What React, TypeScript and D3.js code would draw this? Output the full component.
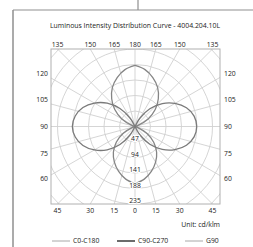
import React from 'react';
import * as d3 from 'd3';

// gamma angles (0 = nadir, 180 = zenith)
const gamma = [0, 10, 20, 30, 40, 50, 60, 70, 80, 90, 100, 110, 120, 130, 140, 150, 160, 170, 180];

// cd/klm per gamma
const c0 = [173, 162, 145, 125, 102, 74, 42, 8, 0, 0, 0, 10, 46, 80, 110, 137, 158, 175, 185];
const c180 = [173, 162, 145, 125, 102, 74, 42, 8, 0, 0, 0, 10, 46, 80, 110, 137, 158, 175, 185];
const c90 = [0, 0, 0, 28, 70, 108, 140, 166, 182, 187, 182, 166, 140, 108, 70, 28, 0, 0, 0];
const c270 = [0, 0, 0, 28, 71, 110, 142, 168, 184, 190, 184, 168, 142, 110, 71, 28, 0, 0, 0];

const ringValues = [47, 94, 141, 188, 235];
const angleTicks = [0, 15, 30, 45, 60, 75, 90, 105, 120, 135, 150, 165, 180];

const legendNames = ['C0-C180', 'C90-C270', 'G90'];
const legendColors = ['#a8a8a8', '#3a3a3a', '#a8a8a8'];

const title = 'Luminous Intensity Distribution Curve - 4004.204.10L';
const unitText = 'Unit: cd/klm';

const W = 253;
const H = 247;
const cx = 135;
const cy = 126.5;
const box = { x0: 51, x1: 220, y0: 49, y1: 204 };
const FONT = '"Open Sans", "Noto Sans", sans-serif';

export default function App() {
  const r = d3.scaleLinear().domain([0, 235]).range([0, 77.5]);

  // trim long runs of zero so the curve only touches the centre once per gap
  const half = (vals: number[]) => {
    const pts = gamma.map((g, i) => ({ g, v: vals[i] }));
    return pts.filter((p, i) => p.v > 0 || (pts[i - 1] && pts[i - 1].v > 0) || (pts[i + 1] && pts[i + 1].v > 0));
  };

  const radial = (side: number) =>
    d3.lineRadial<{ g: number; v: number }>()
      .angle(d => Math.PI + side * (d.g * Math.PI / 180))
      .radius(d => r(d.v))
      .curve(d3.curveCatmullRom.alpha(0.5));

  const right = radial(-1);
  const left = radial(1);

  const curves = [
    { d: right(half(c0)), color: '#858585', w: 1.3 },
    { d: left(half(c180)), color: '#858585', w: 1.3 },
    { d: right(half(c90)), color: '#7a7a7a', w: 1.3 },
    { d: left(half(c270)), color: '#7a7a7a', w: 1.3 },
  ];

  // grid
  const rings = d3.range(1, 8).map(k => r(47 * k));
  const spokes = d3.range(0, 360, 15);
  const far = 140;

  // angle tick labels
  const hw = cx - box.x0;
  const hh = cy - box.y0;
  const labels: { x: number; y: number; t: string; anchor: string }[] = [];
  angleTicks.forEach(g => {
    const sides = g === 0 || g === 180 ? [1] : [1, -1];
    sides.forEach(s => {
      const a = g * Math.PI / 180;
      const dx = s * Math.sin(a);
      const dy = Math.cos(a);
      const tx = Math.abs(dx) > 1e-6 ? hw / Math.abs(dx) : Infinity;
      const ty = Math.abs(dy) > 1e-6 ? hh / Math.abs(dy) : Infinity;
      if (ty <= tx) {
        const x = cx + dx * ty;
        const y = dy > 0 ? box.y1 + 9 : box.y0 - 2.5;
        labels.push({ x, y, t: String(g), anchor: 'middle' });
      } else {
        const y = cy + dy * 105 + 2.4;
        if (dx < 0) labels.push({ x: box.x0 - 3, y, t: String(g), anchor: 'end' });
        else labels.push({ x: box.x1 + 4, y, t: String(g), anchor: 'start' });
      }
    });
  });

  const legendX = [52, 117, 185];

  return (
    <svg width={W} height={H} style={{ position: 'absolute', left: 0, top: 0, background: '#fff' }}
      fontFamily={FONT}>
      <defs>
        <clipPath id="plotClip">
          <rect x={box.x0} y={box.y0} width={box.x1 - box.x0} height={box.y1 - box.y0} />
        </clipPath>
      </defs>

      {/* outer frame */}
      <line x1={138} y1={0} x2={138} y2={10} stroke="#8f8f8f" strokeWidth={1.2} />
      <line x1={13} y1={10} x2={W} y2={10} stroke="#8f8f8f" strokeWidth={1.2} />
      <line x1={13} y1={10} x2={13} y2={H} stroke="#8f8f8f" strokeWidth={1.5} />

      <text x={cx} y={27.5} textAnchor="middle" fontSize={6.9} fill="#222">{title}</text>

      {/* polar grid */}
      <g clipPath="url(#plotClip)" stroke="#d0d0d0" strokeWidth={0.9} fill="none">
        {rings.map((rr, i) => <circle key={i} cx={cx} cy={cy} r={rr} />)}
        {spokes.map(a => (
          <line key={a} x1={cx} y1={cy}
            x2={cx + far * Math.sin(a * Math.PI / 180)} y2={cy + far * Math.cos(a * Math.PI / 180)} />
        ))}
      </g>
      <rect x={box.x0} y={box.y0} width={box.x1 - box.x0} height={box.y1 - box.y0}
        fill="none" stroke="#b0b0b0" strokeWidth={1} />

      {/* curves */}
      <g transform={`translate(${cx},${cy})`} fill="none">
        {curves.map((c, i) => <path key={i} d={c.d || ''} stroke={c.color} strokeWidth={c.w} />)}
      </g>

      {/* ring labels */}
      <g fontSize={6.8} fill="#222" textAnchor="middle">
        {ringValues.map(v => (
          <text key={v} x={cx} y={cy + r(v) - 1} stroke="#fff" strokeWidth={2} paintOrder="stroke">{v}</text>
        ))}
      </g>

      {/* angle labels */}
      <g fontSize={6.8} fill="#222">
        {labels.map((l, i) => (
          <text key={i} x={l.x} y={l.y} textAnchor={l.anchor}>{l.t}</text>
        ))}
      </g>

      <text x={box.x1} y={226.5} textAnchor="end" fontSize={6.9} fill="#222">{unitText}</text>

      {/* legend */}
      <g fontSize={6.8} fill="#222">
        {legendNames.map((n, i) => (
          <g key={n}>
            <line x1={legendX[i]} y1={241} x2={legendX[i] + 18} y2={241}
              stroke={legendColors[i]} strokeWidth={i === 1 ? 1.5 : 1} />
            <text x={legendX[i] + 21} y={243.3}>{n}</text>
          </g>
        ))}
      </g>
    </svg>
  );
}
